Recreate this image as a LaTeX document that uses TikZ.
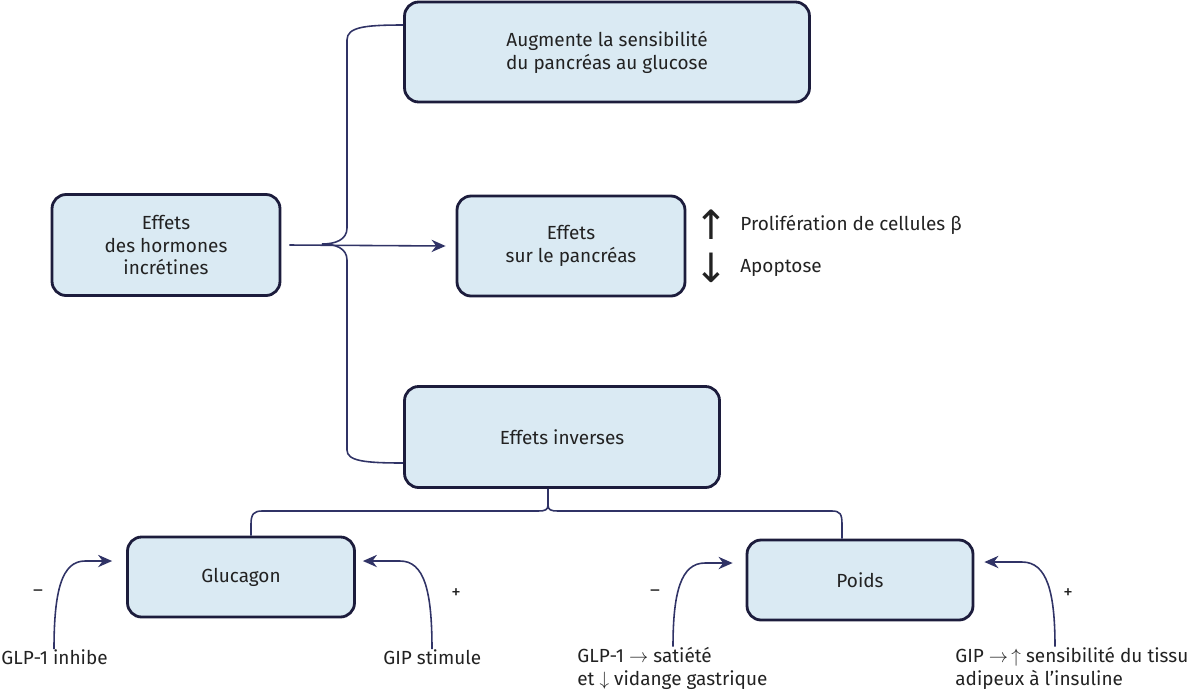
\documentclass[tikz,border=0pt]{standalone}
\usepackage{fontspec}
\setmainfont{Fira Sans}
\newfontfamily\arrowfont{DejaVu Sans}
\usetikzlibrary{positioning, arrows.meta}
\definecolor{boxfill}{HTML}{DAEAF3}
\definecolor{boxline}{HTML}{1C1C3C}
\definecolor{linkcol}{HTML}{303366}
\definecolor{txtcol}{HTML}{222222}
\tikzset{
    x=0.02cm, y=-0.02cm, % one unit is one pixel of the layout
    >={Stealth[length=8pt, width=7pt]}, % filled arrow heads
    every node/.style={text=txtcol, font=\fontsize{10.8}{13}\selectfont},
    box/.style={draw=boxline, fill=boxfill, line width=1.6pt, rounded corners=8pt, align=center, inner sep=0pt}, % the blue boxes
    link/.style={draw=linkcol, line width=0.9pt}, % braces and arrows
    note/.style={align=left, inner sep=0pt, anchor=west}, % free labels
    bigarrow/.style={inner sep=0pt, font=\arrowfont\fontsize{23}{23}\selectfont},
}
\begin{document}
\begin{tikzpicture}
    \useasboundingbox (0,0) rectangle (1200,691);

    \node[box, minimum width=8.1cm, minimum height=2cm] (sens) at (607,52) {Augmente la sensibilité\\du pancréas au glucose};
    \node[box, minimum width=4.56cm, minimum height=2.02cm] (incr) at (166,245) {Effets\\des hormones\\incrétines};
    \node[box, minimum width=4.56cm, minimum height=2cm] (panc) at (571,246) {Effets\\sur le pancréas};
    \node[box, minimum width=6.3cm, minimum height=2.02cm] (inv) at (562,437) {Effets inverses};
    \node[box, minimum width=4.54cm, minimum height=1.6cm] (gluc) at (241,577) {Glucagon};
    \node[box, minimum width=4.52cm, minimum height=1.6cm] (poids) at (860,580) {Poids};

    % effects on the pancreas
    \node[bigarrow] (up) at (711,225) {↑};
    \node[bigarrow] (down) at (711,268) {↓};
    \node[note, right=16.5pt of up.center] (prol) {Prolifération de cellules β};
    \node[note, right=16.5pt of down.center] (apop) {Apoptose};

    % labels of the bottom arrows
    \node[note] (glpa) at (1,657) {GLP-1 inhibe};
    \node[note] (gipa) at (383,657) {GIP stimule};
    \node[note] (glpb) at (577,668) {GLP-1 $\rightarrow$ satiété\\et $\downarrow$ vidange gastrique};
    \node[note] (gipb) at (955,668) {GIP $\rightarrow\,\uparrow$ sensibilité du tissu\\adipeux à l’insuline};
    \node (m1) at (38,593) {–};
    \node (p1) at (456,594) {+};
    \node (m2) at (655,593) {–};
    \node (p2) at (1068,594) {+};

    \coordinate (tip) at (322,244);
    \coordinate (fork) at (548,505);

    % left brace
    \draw[link] ([yshift=0.54cm]sens.west) .. controls (365,25) and (347,27) .. (347,40)
        -- (347,228) .. controls (347,240) and (335,244) .. (tip);
    \draw[link] (tip) .. controls (335,244) and (347,248) .. (347,260)
        -- (347,450) .. controls (347,461) and (365,463) .. ([yshift=-0.52cm]inv.west);
    \draw[link, ->] ([xshift=0.16cm]incr.east) -- ([xshift=-0.2cm]panc.west);

    % lower brace
    \draw[link] (inv.south -| fork) -- (fork) .. controls (548,510) and (545,511) .. (538,511)
        -- (262,511) .. controls (254,511) and (251,514) .. (251,524) -- (gluc.north -| 251,0);
    \draw[link] (fork) .. controls (548,510) and (551,511) .. (558,511)
        -- (832,511) .. controls (840,511) and (842,514) .. (842,524) -- (poids.north -| 842,0);

    % influences on glucagon and weight
    \draw[link, ->] (glpa.north -| 54,0) .. controls (54,590) and (62,561) .. (85,561) -- ([xshift=-0.28cm, yshift=0.32cm]gluc.west);
    \draw[link, ->] (gipa.north -| 432,0) .. controls (432,590) and (424,561) .. (400,561) -- ([xshift=0.14cm, yshift=0.32cm]gluc.east);
    \draw[link, ->] (glpb.north -| 673,0) .. controls (673,592) and (681,563) .. (705,563) -- ([xshift=-0.26cm, yshift=0.34cm]poids.west);
    \draw[link, ->] (gipb.north -| 1055,0) .. controls (1055,592) and (1047,562) .. (1022,562) -- ([xshift=0.2cm, yshift=0.36cm]poids.east);
\end{tikzpicture}
\end{document}
